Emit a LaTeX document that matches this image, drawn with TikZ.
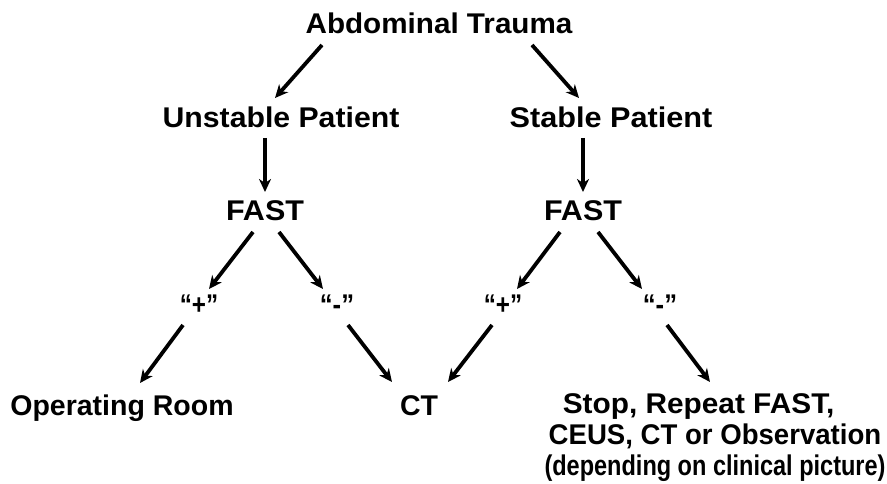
\documentclass[tikz,border=0pt]{standalone}
\usepackage{fontspec}
\usepackage{graphicx}
\setmainfont{Liberation Sans}
\usetikzlibrary{arrows.meta}
\newcommand\xsq[2]{\scalebox{#1}[1]{#2}}
\begin{document}
\begin{tikzpicture}[x=1pt,y=-1pt,
  lbl/.style={inner sep=0pt,outer sep=0pt,font=\fontsize{28.5}{31}\selectfont\bfseries,anchor=base},
  conn/.style={line width=3.8pt,-{Stealth[length=13pt,width=12pt,inset=4pt]}}]
\useasboundingbox (0,0) rectangle (887,484);
% nodes
\node[lbl] (ab) at (439,34) {\xsq{1.04}{Abdominal Trauma}};
\node[lbl] (up) at (281,128) {\xsq{1.06}{Unstable Patient}};
\node[lbl] (sp) at (611,128) {\xsq{1.075}{Stable Patient}};
\node[lbl] (f1) at (265,221) {\xsq{1.07}{FAST}};
\node[lbl] (f2) at (583,221) {\xsq{1.07}{FAST}};
\node[lbl] (p1) at (199,314) {\xsq{0.85}{“+”}};
\node[lbl] (m1) at (337,314) {\xsq{0.9}{“-”}};
\node[lbl] (p2) at (503,314) {\xsq{0.85}{“+”}};
\node[lbl] (m2) at (660,314) {\xsq{0.9}{“-”}};
\node[lbl] (or) at (122,415) {Operating Room};
\node[lbl] (ct) at (419,415) {CT};
\node[lbl,anchor=north,align=center] (st) at (715,394)
  {\xsq{1.046}{Stop, Repeat FAST,\hspace*{1.1em}}\\\xsq{0.968}{CEUS, CT or Observation}\\\xsq{0.825}{(depending on clinical picture)}};
% connectors
\draw[conn] ([shift={(-117,11)}]ab.base) -- ([shift={(-6,-30)}]up.base);
\draw[conn] ([shift={(93,11)}]ab.base) -- ([shift={(-32,-30)}]sp.base);
\draw[conn] ([shift={(-16,10)}]up.base) -- ([shift={(0,-29)}]f1.base);
\draw[conn] ([shift={(-28,10)}]sp.base) -- ([shift={(0,-29)}]f2.base);
\draw[conn] ([shift={(-12,11)}]f1.base) -- ([shift={(10,-25)}]p1.base);
\draw[conn] ([shift={(14,11)}]f1.base) -- ([shift={(-14,-25)}]m1.base);
\draw[conn] ([shift={(-23,11)}]f2.base) -- ([shift={(14,-25)}]p2.base);
\draw[conn] ([shift={(15,11)}]f2.base) -- ([shift={(-18,-25)}]m2.base);
\draw[conn] ([shift={(-16,11)}]p1.base) -- ([shift={(18,-32)}]or.base);
\draw[conn] ([shift={(11,11)}]m1.base) -- ([shift={(-27,-33)}]ct.base);
\draw[conn] ([shift={(-11,11)}]p2.base) -- ([shift={(29,-33)}]ct.base);
\draw[conn] ([shift={(7,11)}]m2.base) -- ([shift={(-5,-12)}]st.north);
\end{tikzpicture}
\end{document}
